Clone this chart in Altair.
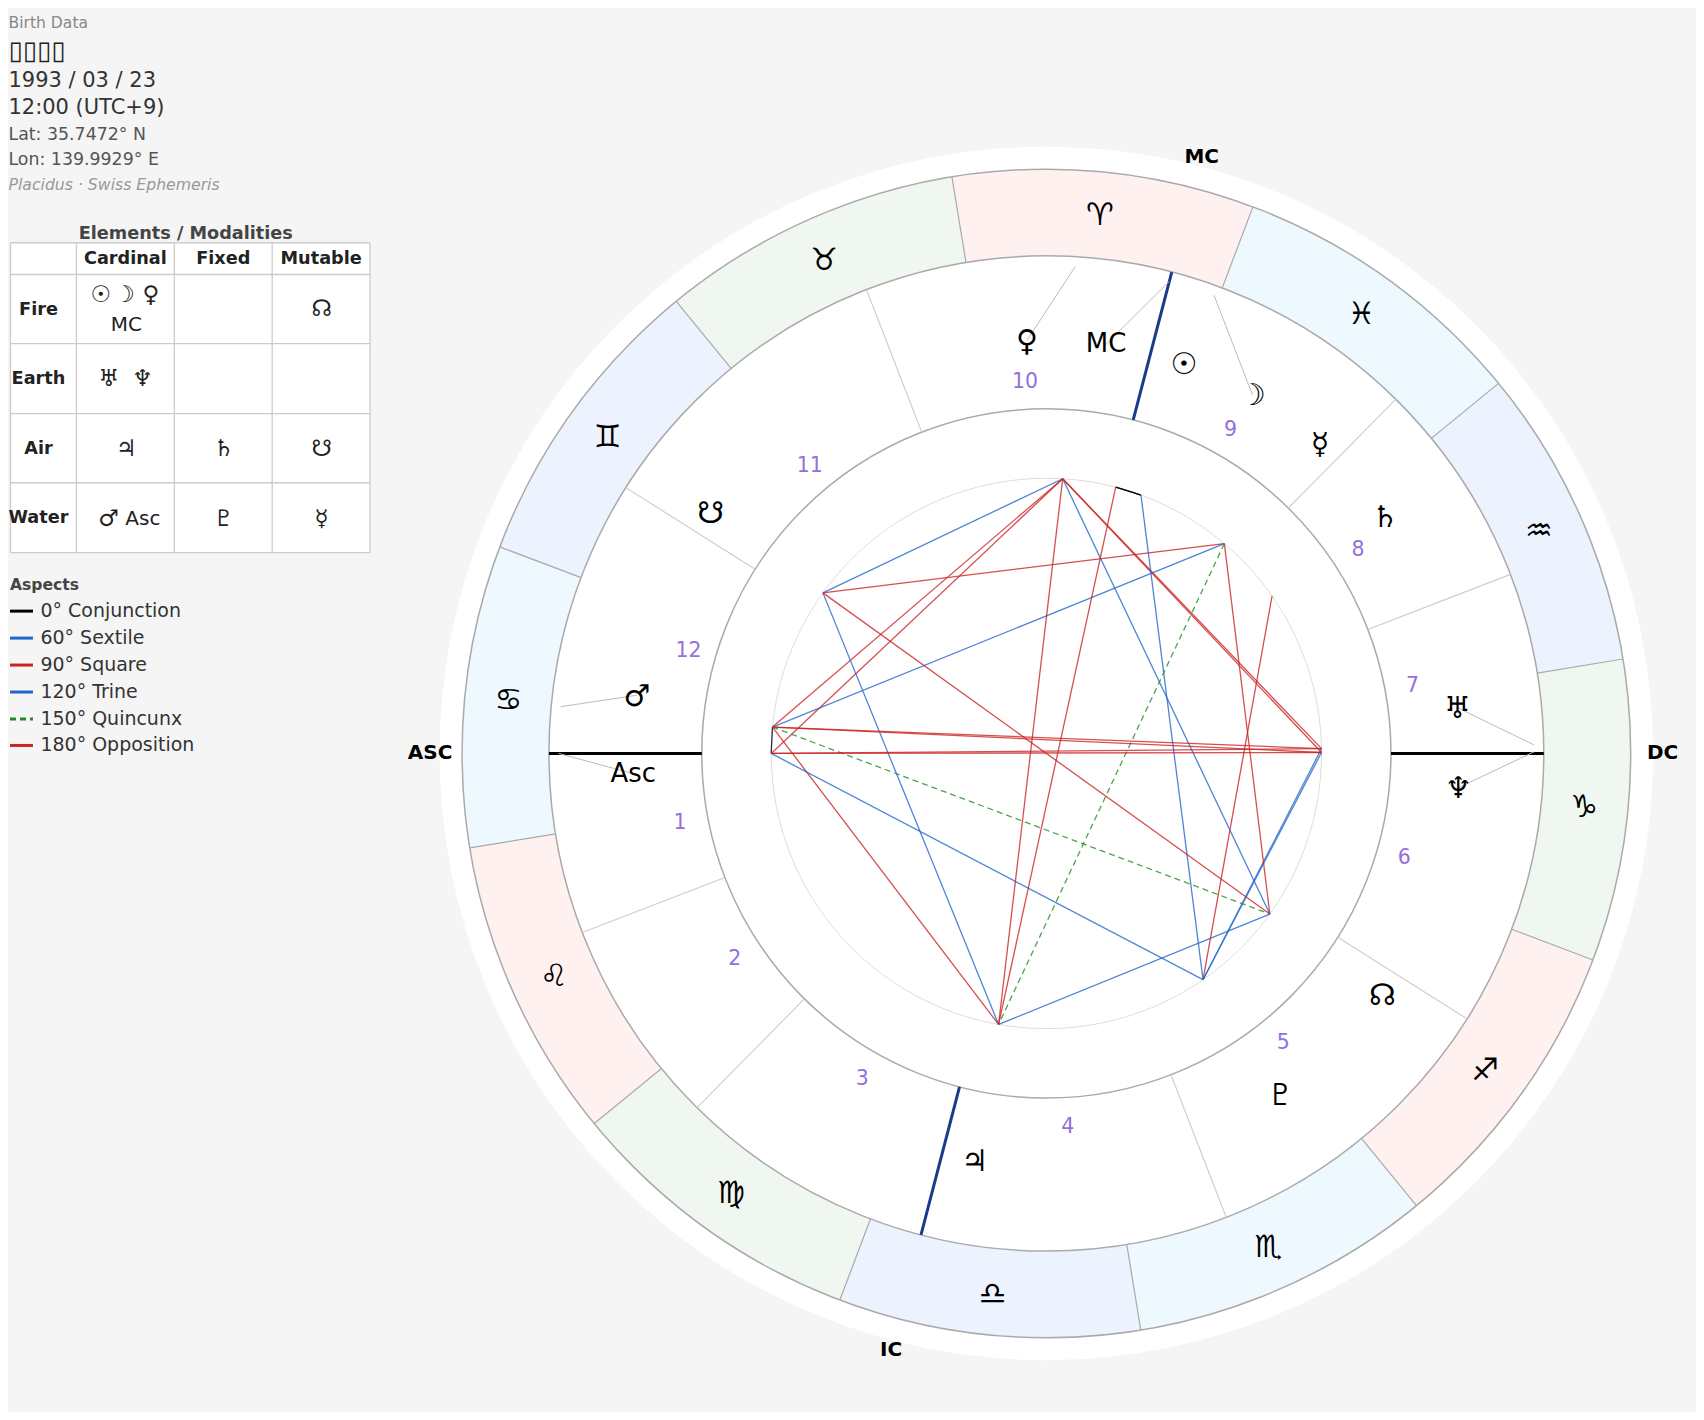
import math
import altair as alt
import pandas as pd

# ---------- values (screen angle in degrees, counter-clockwise from 3 o'clock)
SIGN_GLYPHS = ["♈", "♉", "♊", "♋", "♌", "♍", "♎", "♏", "♐", "♑", "♒", "♓"]
SIGN_ELEMENT = ["fire", "earth", "air", "water"] * 3
ARIES_START = 69.3
CUSPS = [180.0, 201.1, 225.4, 255.4, 291.2, 327.75, 0.0, 21.1, 45.4, 75.4, 111.2, 147.7]
HOUSE_NO = ["1", "2", "3", "4", "5", "6", "7", "8", "9", "10", "11", "12"]
BODIES = ["Su", "Mo", "Me", "Ve", "Ma", "Ju", "Sa", "Ur", "Ne", "Pl", "NN", "SN", "Asc", "MC"]
BODY_LABEL = ["☉", "☽", "☿", "♀", "♂", "♃", "♄", "♅", "♆", "♇", "☊", "☋", "Asc", "MC"]
BODY_TRUE = [71.8, 69.9, 49.7, 86.6, 174.5, 260.0, 34.9, 1.0, 0.2, 304.7, 324.3, 144.3, 180.0, 75.4]
BODY_SHOWN = [70.6, 60.1, 48.6, 92.7, 171.9, 260.0, 35.0, 6.35, 355.25, 304.5, 324.3, 144.3, 182.8, 81.7]
LEADERS = ["Mo", "Ve", "Ma", "Ur", "Ne", "Asc", "MC"]
ASPECTS = {
    "conj": [("MC", "Mo"), ("MC", "Su"), ("Su", "Mo"), ("Ma", "Asc")],
    "sext": [("Ve", "SN"), ("Ju", "NN"), ("Ur", "Pl"), ("Ne", "Pl")],
    "square": [("Ma", "Ve"), ("Asc", "Ve"), ("Ma", "Ju"), ("Me", "SN"), ("Me", "NN"), ("Sa", "Pl"), ("Ve", "Ur"), ("Ve", "Ne")],
    "trine": [("SN", "Ju"), ("Ve", "NN"), ("Me", "Ma"), ("Mo", "Pl"), ("Asc", "Pl")],
    "quinc": [("Me", "Ju"), ("Ma", "NN")],
    "opp": [("Ve", "Ju"), ("MC", "Ju"), ("Ma", "Ur"), ("Ma", "Ne"), ("Asc", "Ur"), ("Asc", "Ne"), ("SN", "NN")],
}
BIRTH_LINES = ["Birth Data", "▯▯▯▯", "1993 / 03 / 23", "12:00 (UTC+9)", "Lat: 35.7472° N", "Lon: 139.9929° E", "Placidus · Swiss Ephemeris"]
TABLE_COLS = ["Cardinal", "Fixed", "Mutable"]
TABLE_ROWS = ["Fire", "Earth", "Air", "Water"]
LEGEND = ["0° Conjunction", "60° Sextile", "90° Square", "120° Trine", "150° Quincunx", "180° Opposition"]
LEGEND_KEYS = ["conj", "sext", "square", "trine", "quinc", "opp"]

# ---------- layout and style
W, H = 1688, 1404
CX, CY = 1046.6, 752.5
R_BG, R_OUT, R_ZOD, R_HOUSE, R_ASP = 607.5, 585.0, 498.0, 345.0, 275.5
R_SIGN, R_BODY, R_NUM, R_LEAD, R_ANGLE = 541.0, 414.0, 373.0, 488.4, 617.0
FONT = "DejaVu Sans"
BG = "#f5f5f5"
ELEMENT_FILL = {"fire": "#fff1f0", "earth": "#f0f7f0", "air": "#edf2ff", "water": "#edf8ff"}
ASPECT_COLOR = {"conj": "#000000", "sext": "#2266cc", "square": "#cc2222", "trine": "#2266cc", "quinc": "#228b22", "opp": "#cc2222"}
# optical centring of glyphs (pixels down), which the text baseline does not give
SIGN_NUDGE = [0, 0, 0, 1, 1, 2, 4, 2, 2, 1, 1, 0]
BODY_NUDGE = 1.5

xs = alt.Scale(domain=[9, 9 + W], range=[0, W])
ys = alt.Scale(domain=[7, 7 + H], range=[0, H])
X = lambda f: alt.X(f"{f}:Q", scale=xs, axis=None)
Y = lambda f: alt.Y(f"{f}:Q", scale=ys, axis=None)


def px(angle, r):
    return CX + r * math.cos(math.radians(angle))


def py(angle, r):
    return CY - r * math.sin(math.radians(angle))


def segs(rows):
    return pd.DataFrame(rows, columns=["x", "y", "x2", "y2"])


def radial(angle, r0, r1, a1=None):
    a1 = angle if a1 is None else a1
    return (px(angle, r0), py(angle, r0), px(a1, r1), py(a1, r1))


def rules(rows, color, width, opacity=1.0, dash=None):
    kw = {"strokeDash": dash} if dash else {}
    return alt.Chart(segs(rows)).mark_rule(color=color, strokeWidth=width, opacity=opacity, **kw).encode(
        x=X("x"), y=Y("y"), x2=alt.X2("x2"), y2=alt.Y2("y2"))


def texts(rows, size, color="#000000", weight="normal", align="center", style="normal"):
    df = pd.DataFrame(rows, columns=["x", "y", "t"])
    return alt.Chart(df).mark_text(font=FONT, fontSize=size, color=color, fontWeight=weight, align=align,
                                   fontStyle=style, baseline="middle").encode(x=X("x"), y=Y("y"), text="t:N")


def disc(r, fill=None, stroke=None, sw=1.0):
    df = pd.DataFrame({"x": [CX], "y": [CY], "s": [(2 * r) ** 2]})
    if fill:
        m = alt.Chart(df).mark_point(filled=True, fill=fill, opacity=1, shape="circle", strokeWidth=0)
    else:
        m = alt.Chart(df).mark_point(filled=False, stroke=stroke, opacity=1, strokeWidth=sw, shape="circle")
    return m.encode(x=X("x"), y=Y("y"), size=alt.Size("s:Q", scale=None, legend=None))


layers = [disc(R_BG, fill="#ffffff")]

# zodiac band
band = []
for i, el in enumerate(SIGN_ELEMENT):
    a0 = ARIES_START + 30 * i
    start, end = math.radians(90 - a0 - 30), math.radians(90 - a0)
    band.append({"x": CX, "y": CY, "a": start, "b": end, "r": R_OUT, "r0": R_ZOD, "fill": ELEMENT_FILL[el]})
layers.append(alt.Chart(pd.DataFrame(band)).mark_arc(strokeWidth=0).encode(
    x=X("x"), y=Y("y"),
    theta=alt.Theta("a:Q", scale=None, stack=False), theta2=alt.Theta2("b:Q"),
    radius=alt.Radius("r:Q", scale=None), radius2=alt.Radius2("r0:Q"),
    fill=alt.Fill("fill:N", scale=None, legend=None)))
layers.append(rules([radial(ARIES_START + 30 * i, R_ZOD, R_OUT) for i in range(12)], "#aaaaaa", 1.2))
layers += [disc(R_OUT, stroke="#aaaaaa", sw=1.5), disc(R_ZOD, stroke="#aaaaaa", sw=1.5),
           disc(R_HOUSE, stroke="#aaaaaa", sw=1.5), disc(R_ASP, stroke="#dddddd", sw=1.0)]
layers.append(texts([(px(ARIES_START + 15 + 30 * i, R_SIGN), py(ARIES_START + 15 + 30 * i, R_SIGN) + SIGN_NUDGE[i], g)
                     for i, g in enumerate(SIGN_GLYPHS)], 31))

# houses
minor = [c for i, c in enumerate(CUSPS) if i not in (0, 3, 6, 9)]
layers.append(rules([radial(c, R_HOUSE, R_ZOD) for c in minor], "#cccccc", 1.1))
layers.append(rules([radial(CUSPS[0], R_HOUSE, R_ZOD), radial(CUSPS[6], R_HOUSE, R_ZOD)], "#000000", 3))
layers.append(rules([radial(CUSPS[3], R_HOUSE, R_ZOD), radial(CUSPS[9], R_HOUSE, R_ZOD)], "#1a3a8a", 3))
nums = []
for i, n in enumerate(HOUSE_NO):
    a0, a1 = CUSPS[i], CUSPS[(i + 1) % 12]
    a1 = a1 + 360 if a1 < a0 else a1
    m = (a0 + a1) / 2
    nums.append((px(m, R_NUM), py(m, R_NUM + 1) + 1, n))
layers.append(texts(nums, 20.5, color="#9370db"))

# bodies and leaders
true_a = dict(zip(BODIES, BODY_TRUE))
shown_a = dict(zip(BODIES, BODY_SHOWN))
layers.append(rules([radial(true_a[b], R_LEAD, R_BODY, shown_a[b]) for b in LEADERS], "#bbbbbb", 1.0))
glyph_bodies = [(px(shown_a[b], R_BODY), py(shown_a[b], R_BODY) + BODY_NUDGE, l) for b, l in zip(BODIES, BODY_LABEL) if b not in ("Asc", "MC")]
word_bodies = [(px(shown_a[b], R_BODY), py(shown_a[b], R_BODY), l) for b, l in zip(BODIES, BODY_LABEL) if b in ("Asc", "MC")]
layers.append(texts(glyph_bodies, 30))
layers.append(texts(word_bodies, 26))

# aspects
for key, pairs in ASPECTS.items():
    rows = [(px(true_a[p], R_ASP), py(true_a[p], R_ASP), px(true_a[q], R_ASP), py(true_a[q], R_ASP)) for p, q in pairs]
    layers.append(rules(rows, ASPECT_COLOR[key], 1.3, opacity=0.8, dash=[6, 4] if key == "quinc" else None))

# angle labels
layers.append(texts([(px(CUSPS[9], R_ANGLE), py(CUSPS[9], R_ANGLE), "MC"), (px(CUSPS[0], R_ANGLE), py(CUSPS[0], R_ANGLE), "ASC"),
                     (px(CUSPS[6], R_ANGLE), py(CUSPS[6], R_ANGLE), "DC"), (px(CUSPS[3], R_ANGLE), py(CUSPS[3], R_ANGLE), "IC")],
                    20, weight="bold"))

# birth panel
TX = 7.5
birth_y = [21.5, 49, 79, 106, 133, 158.7, 183.3]
birth_style = [(15.6, "#888888", "normal"), (26, "#222222", "normal"), (21, "#333333", "normal"), (21, "#333333", "normal"),
               (17.4, "#555555", "normal"), (17.4, "#555555", "normal"), (15.7, "#999999", "italic")]
for t, yy, (sz, col, st) in zip(BIRTH_LINES, birth_y, birth_style):
    layers.append(texts([(TX, yy, t)], sz, color=col, align="left", style=st))

# table
gx = [9.5, 75.5, 173.5, 271.5, 369.5]
gy = [241.2, 273, 342.2, 412.2, 481.5, 551.5]
cell_cx = [37.5, 124.5, 222.5, 320.5]
cell_cy = [(a + b) / 2 + 0.5 for a, b in zip(gy, gy[1:])]
layers.append(alt.Chart(pd.DataFrame([{"x": gx[0], "x2": gx[-1], "y": gy[0], "y2": gy[-1]}])).mark_rect(color="#ffffff").encode(
    x=X("x"), x2=alt.X2("x2"), y=Y("y"), y2=alt.Y2("y2")))
layers.append(rules([(x, gy[0], x, gy[-1]) for x in gx] + [(gx[0], y, gx[-1], y) for y in gy], "#cccccc", 1.3))
layers.append(texts([(185, 232.5, "Elements / Modalities")], 17.7, color="#444444", weight="bold"))
layers.append(texts([(cell_cx[i + 1], cell_cy[0], c) for i, c in enumerate(TABLE_COLS)], 17.7, color="#222222", weight="bold"))
layers.append(texts([(cell_cx[0], cell_cy[j + 1], r) for j, r in enumerate(TABLE_ROWS)], 17.7, color="#222222", weight="bold"))
TABLE_GLYPHS = [(100, 293.3, "☉"), (123.5, 293.3, "☽"), (150, 293.3, "♀"), (321, 308, "☊"),
                (108, 378, "♅"), (141.7, 378, "♆"),
                (125.5, 447.7, "♃"), (223, 447.7, "♄"), (321, 447.7, "☋"),
                (107.7, 517.3, "♂"), (223, 517.3, "♇"), (321, 517.3, "☿")]
layers.append(texts(TABLE_GLYPHS, 23, color="#222222"))
layers.append(texts([(125.5, 323.5, "MC"), (142, 517.8, "Asc")], 20, color="#222222"))

# aspect legend
layers.append(texts([(9, 583.7, "Aspects")], 15.6, color="#444444", weight="bold", align="left"))
leg_y = [610, 637, 664, 691, 718, 744.5]
for yy, lab, key in zip(leg_y, LEGEND, LEGEND_KEYS):
    layers.append(rules([(9, yy, 32, yy)], ASPECT_COLOR[key], 3, dash=[6, 4] if key == "quinc" else None))
    layers.append(texts([(39.5, yy, lab)], 19, color="#333333", align="left"))

chart = alt.layer(*layers).properties(width=W, height=H, padding=0, background=BG).configure_view(stroke=None)
chart.save("out.html", embed_options={"renderer": "svg", "actions": False})
